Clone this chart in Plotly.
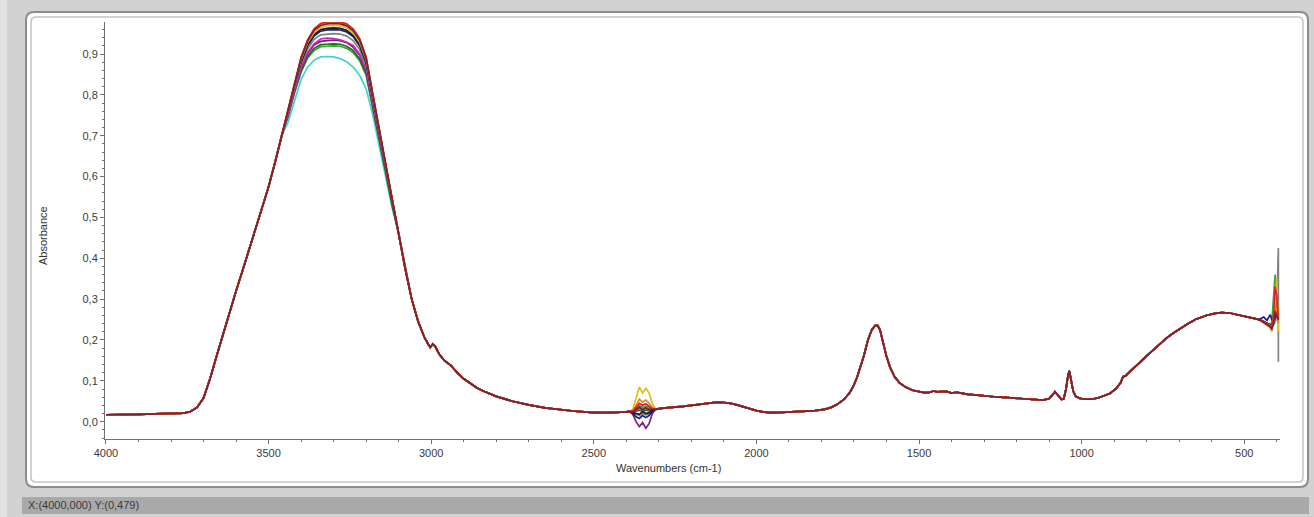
import plotly.graph_objects as go

# ---- spectral data (wavenumber in cm-1, absorbance) ----
WN_HEAD = [4000, 3950, 3900, 3850, 3800, 3760, 3740, 3720, 3700, 3680, 3660, 3640,
           3620, 3600, 3580, 3560, 3540, 3520, 3500, 3480, 3460]
HEAD = [0.017, 0.017, 0.018, 0.019, 0.020, 0.021, 0.025, 0.035, 0.058, 0.105, 0.16, 0.215,
        0.27, 0.32, 0.37, 0.42, 0.47, 0.52, 0.575, 0.635, 0.70]

WN_PEAK = [3440, 3420, 3400, 3380, 3360, 3340, 3320, 3300, 3280, 3260, 3240, 3220,
           3200, 3180, 3160, 3140, 3120]
PEAK = {
    "cyan":      [0.733, 0.788, 0.838, 0.868, 0.885, 0.893, 0.894, 0.893, 0.889, 0.881, 0.868, 0.848, 0.815, 0.752, 0.678, 0.605, 0.523],
    "green":     [0.747, 0.806, 0.856, 0.890, 0.909, 0.918, 0.919, 0.920, 0.919, 0.914, 0.904, 0.884, 0.848, 0.772, 0.690, 0.611, 0.530],
    "darkgreen": [0.749, 0.808, 0.859, 0.894, 0.914, 0.923, 0.924, 0.925, 0.924, 0.919, 0.909, 0.888, 0.852, 0.775, 0.692, 0.612, 0.531],
    "purple":    [0.752, 0.812, 0.864, 0.901, 0.922, 0.931, 0.933, 0.934, 0.933, 0.928, 0.917, 0.897, 0.859, 0.780, 0.696, 0.615, 0.534],
    "magenta":   [0.753, 0.814, 0.867, 0.904, 0.925, 0.937, 0.939, 0.938, 0.935, 0.929, 0.921, 0.900, 0.862, 0.782, 0.697, 0.617, 0.535],
    "gray":      [0.758, 0.820, 0.874, 0.913, 0.936, 0.947, 0.949, 0.950, 0.949, 0.944, 0.933, 0.911, 0.871, 0.789, 0.702, 0.620, 0.537],
    "navy":      [0.761, 0.824, 0.880, 0.920, 0.944, 0.956, 0.959, 0.960, 0.959, 0.954, 0.943, 0.920, 0.878, 0.794, 0.707, 0.624, 0.540],
    "black":     [0.762, 0.826, 0.882, 0.923, 0.948, 0.960, 0.963, 0.964, 0.963, 0.958, 0.946, 0.924, 0.881, 0.796, 0.708, 0.625, 0.541],
    "yellow":    [0.764, 0.828, 0.886, 0.928, 0.953, 0.965, 0.969, 0.970, 0.969, 0.964, 0.952, 0.929, 0.886, 0.800, 0.711, 0.627, 0.542],
    "orange":    [0.767, 0.832, 0.891, 0.934, 0.960, 0.973, 0.977, 0.978, 0.977, 0.972, 0.960, 0.936, 0.891, 0.804, 0.714, 0.629, 0.545],
    "red":       [0.768, 0.833, 0.892, 0.935, 0.962, 0.975, 0.979, 0.980, 0.979, 0.974, 0.962, 0.938, 0.893, 0.805, 0.715, 0.630, 0.545],
    "brown":     [0.766, 0.831, 0.889, 0.931, 0.958, 0.970, 0.974, 0.975, 0.974, 0.969, 0.957, 0.934, 0.889, 0.802, 0.713, 0.628, 0.544],
}

WN_MID1 = [3100, 3080, 3060, 3040, 3020, 3010, 3003, 2995, 2988, 2975, 2960, 2940, 2920,
           2900, 2880, 2860, 2840, 2800, 2750, 2700, 2650, 2600, 2550, 2500, 2450, 2400]
MID1 = [0.46, 0.375, 0.30, 0.245, 0.205, 0.190, 0.182, 0.190, 0.185, 0.165, 0.150, 0.138, 0.12,
        0.105, 0.093, 0.083, 0.075, 0.062, 0.050, 0.041, 0.034, 0.029, 0.025, 0.022, 0.022, 0.024]

WN_CO2 = [2390, 2380, 2370, 2360, 2350, 2340, 2330, 2320, 2310, 2300]
CO2 = {
    "cyan":      [0.025, 0.024, 0.030, 0.034, 0.030, 0.033, 0.030, 0.030, 0.030, 0.032],
    "green":     [0.025, 0.024, 0.032, 0.040, 0.035, 0.038, 0.035, 0.031, 0.030, 0.032],
    "darkgreen": [0.025, 0.023, 0.026, 0.028, 0.026, 0.028, 0.027, 0.029, 0.030, 0.032],
    "purple":    [0.025, 0.018, 0.000, -0.012, -0.002, -0.016, -0.005, 0.020, 0.030, 0.032],
    "magenta":   [0.025, 0.023, 0.028, 0.032, 0.028, 0.032, 0.030, 0.030, 0.030, 0.032],
    "gray":      [0.025, 0.022, 0.018, 0.015, 0.020, 0.017, 0.020, 0.027, 0.030, 0.032],
    "navy":      [0.025, 0.020, 0.012, 0.008, 0.015, 0.010, 0.015, 0.025, 0.030, 0.032],
    "black":     [0.025, 0.022, 0.020, 0.018, 0.025, 0.020, 0.022, 0.028, 0.030, 0.032],
    "yellow":    [0.025, 0.030, 0.060, 0.085, 0.070, 0.082, 0.070, 0.045, 0.030, 0.032],
    "orange":    [0.025, 0.027, 0.040, 0.055, 0.048, 0.053, 0.045, 0.035, 0.030, 0.032],
    "red":       [0.025, 0.026, 0.035, 0.045, 0.040, 0.044, 0.038, 0.032, 0.030, 0.032],
    "brown":     [0.025, 0.024, 0.030, 0.036, 0.030, 0.034, 0.030, 0.030, 0.030, 0.032],
}

WN_MID2 = [2290, 2260, 2230, 2200, 2170, 2140, 2120, 2100, 2080, 2060, 2040, 2020, 2000,
           1980, 1960, 1940, 1900, 1860, 1820, 1790, 1770, 1750, 1730, 1712, 1700, 1690,
           1680, 1670, 1657, 1645, 1635, 1627, 1620, 1611, 1600, 1589, 1575, 1560, 1540,
           1520, 1500, 1485, 1470, 1455, 1445, 1430, 1415, 1400, 1385, 1370, 1350, 1320,
           1300, 1270, 1250, 1220, 1200, 1170, 1150, 1120, 1100, 1090, 1082, 1074, 1062,
           1055, 1048, 1042, 1038, 1033, 1026, 1018, 1005, 990, 970, 950, 930, 913, 895,
           880, 873, 865, 855, 840, 820, 800, 780, 760, 740, 720, 700, 677, 650, 617, 590,
           570, 545, 520, 500, 480, 460]
MID2 = [0.033, 0.035, 0.037, 0.040, 0.043, 0.046, 0.048, 0.047, 0.045, 0.041, 0.036, 0.031, 0.027,
        0.024, 0.022, 0.022, 0.023, 0.025, 0.027, 0.030, 0.035, 0.043, 0.055, 0.072, 0.090, 0.110,
        0.135, 0.160, 0.200, 0.225, 0.235, 0.235, 0.225, 0.195, 0.160, 0.133, 0.110, 0.095, 0.084,
        0.077, 0.073, 0.071, 0.071, 0.075, 0.073, 0.073, 0.074, 0.070, 0.072, 0.070, 0.067, 0.065,
        0.063, 0.061, 0.060, 0.058, 0.057, 0.056, 0.055, 0.053, 0.056, 0.066, 0.073, 0.066, 0.054,
        0.056, 0.080, 0.112, 0.124, 0.105, 0.075, 0.062, 0.057, 0.055, 0.055, 0.058, 0.063, 0.069, 0.080,
        0.095, 0.110, 0.112, 0.120, 0.132, 0.146, 0.161, 0.176, 0.191, 0.204, 0.216, 0.227, 0.238, 0.250, 0.260, 0.265,
        0.267, 0.266, 0.262, 0.259, 0.255, 0.251]

WN_TAIL = [450, 440, 430, 420, 415, 410, 405, 400, 395, 395]
TAIL = {
    "cyan":      [0.247, 0.243, 0.238, 0.233, 0.230, 0.235, 0.245, 0.250, 0.245, 0.245],
    "green":     [0.249, 0.246, 0.241, 0.236, 0.245, 0.300, 0.360, 0.290, 0.260, 0.260],
    "darkgreen": [0.249, 0.245, 0.240, 0.236, 0.235, 0.250, 0.280, 0.270, 0.260, 0.260],
    "purple":    [0.249, 0.245, 0.240, 0.236, 0.232, 0.240, 0.250, 0.260, 0.255, 0.255],
    "magenta":   [0.249, 0.246, 0.240, 0.237, 0.233, 0.242, 0.255, 0.270, 0.260, 0.260],
    "gray":      [0.249, 0.245, 0.240, 0.236, 0.235, 0.240, 0.260, 0.270, 0.425, 0.147],
    "navy":      [0.252, 0.256, 0.248, 0.262, 0.250, 0.245, 0.270, 0.260, 0.250, 0.250],
    "black":     [0.249, 0.245, 0.240, 0.238, 0.235, 0.240, 0.260, 0.280, 0.260, 0.260],
    "yellow":    [0.248, 0.243, 0.236, 0.230, 0.220, 0.250, 0.310, 0.350, 0.220, 0.220],
    "orange":    [0.248, 0.244, 0.238, 0.235, 0.230, 0.245, 0.290, 0.270, 0.240, 0.240],
    "red":       [0.248, 0.243, 0.236, 0.232, 0.225, 0.260, 0.330, 0.310, 0.250, 0.250],
    "brown":     [0.248, 0.244, 0.238, 0.233, 0.228, 0.240, 0.270, 0.260, 0.250, 0.250],
}

COLORS = {
    "cyan": "#45d2d2", "green": "#3aa63a", "darkgreen": "#1d6b1d", "purple": "#7a1f7a",
    "magenta": "#d21fc4", "gray": "#808080", "navy": "#1c1c8f", "black": "#1e1e1e",
    "yellow": "#d6c21c", "orange": "#f0821e", "red": "#e4202a", "brown": "#7c2230",
}

WN = WN_HEAD + WN_PEAK + WN_MID1 + WN_CO2 + WN_MID2 + WN_TAIL

fig = go.Figure()
for name in COLORS:
    absorb = HEAD + PEAK[name] + MID1 + CO2[name] + MID2 + TAIL[name]
    fig.add_trace(go.Scatter(x=WN, y=absorb, mode="lines", name=name,
                             line=dict(color=COLORS[name], width=1.7),
                             showlegend=False, hoverinfo="skip"))

# ---- window chrome: gray backdrop, rounded white panel, status bar ----
W, H = 1314, 517
L, R, T, B = 105, 1280, 22, 439
pw, ph = R - L, B - T


def px(xp):
    return (xp - L) / pw


def py(yp):
    return (B - yp) / ph


def rounded(x0, y0, x1, y1, r):
    rx, ry = r / pw, r / ph
    a, b, c, d = px(x0), py(y1), px(x1), py(y0)
    return (f"M{a + rx},{b} L{c - rx},{b} Q{c},{b} {c},{b + ry} "
            f"L{c},{d - ry} Q{c},{d} {c - rx},{d} L{a + rx},{d} "
            f"Q{a},{d} {a},{d - ry} L{a},{b + ry} Q{a},{b} {a + rx},{b} Z")


shapes = [
    dict(type="path", xref="paper", yref="paper", path=rounded(26, 12, 1308, 487, 8),
         fillcolor="white", line=dict(color="#8c8c8c", width=2), layer="below"),
    dict(type="path", xref="paper", yref="paper", path=rounded(31, 17, 1303, 482, 5),
         fillcolor="white", line=dict(color="#c4c4c4", width=1.5), layer="below"),
    dict(type="rect", xref="paper", yref="paper", x0=px(22), x1=px(1309), y0=py(514), y1=py(497),
         fillcolor="#a9a9a9", line=dict(width=0), layer="below"),
    dict(type="rect", xref="paper", yref="paper", x0=px(0), x1=px(7), y0=py(517), y1=py(0),
         fillcolor="#e2e2e2", line=dict(width=0), layer="below"),
]

annotations = [
    dict(text="Absorbance", xref="paper", yref="paper", x=px(43), y=py(236), textangle=-90,
         showarrow=False, font=dict(size=11, color="#333333"), xanchor="center", yanchor="middle"),
    dict(text="Wavenumbers (cm-1)", xref="paper", yref="paper", x=px(668), y=py(468),
         showarrow=False, font=dict(size=11, color="#333333"), xanchor="center", yanchor="middle"),
    dict(text="X:(4000,000) Y:(0,479)", xref="paper", yref="paper", x=px(26), y=py(505.5),
         showarrow=False, font=dict(size=11, color="#3a3a3a"), xanchor="left", yanchor="middle"),
]

axis_common = dict(showgrid=False, zeroline=False, showline=True, linecolor="#707070",
                   linewidth=1, ticks="outside", ticklen=4, tickcolor="#707070",
                   tickfont=dict(size=11, color="#3a3a3a"))

fig.update_layout(
    width=W, height=H,
    margin=dict(l=L, r=W - R, t=T, b=H - B),
    paper_bgcolor="#d2d2d2", plot_bgcolor="white",
    font=dict(family="Liberation Sans, Arial, sans-serif"),
    separators=",.",
    shapes=shapes, annotations=annotations,
    xaxis=dict(range=[4003, 390], tick0=0, dtick=500, ticklabelstandoff=0,
               minor=dict(dtick=100, ticks="outside", ticklen=2, tickcolor="#707070"),
               **axis_common),
    yaxis=dict(range=[-0.0424, 0.9785], tick0=0, dtick=0.1, tickformat=".1f",
               minor=dict(dtick=0.02, ticks="outside", ticklen=2, tickcolor="#707070"),
               **axis_common),
)

fig.write_html("out.html")
